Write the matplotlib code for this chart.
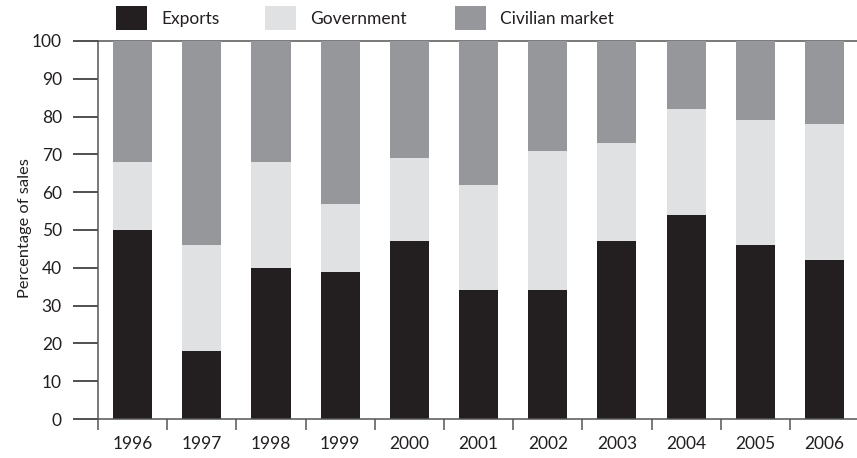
import matplotlib
matplotlib.use("Agg")
import matplotlib.pyplot as plt
from matplotlib.patches import Rectangle
import numpy as np

years = ["1996", "1997", "1998", "1999", "2000", "2001", "2002", "2003", "2004", "2005", "2006"]
exports = [50, 18, 40, 39, 47, 34, 34, 47, 54, 46, 42]
government = [18, 28, 28, 18, 22, 28, 37, 26, 28, 33, 36]
civilian = [32, 54, 32, 43, 31, 38, 29, 27, 18.5, 21, 22]
series_names = ["Exports", "Government", "Civilian market"]
colors = ["#231f20", "#e0e1e3", "#96979a"]

plt.rcParams['font.family'] = ['Lato', 'DejaVu Sans']
W, H = 857, 458
fig = plt.figure(figsize=(W / 100, H / 100), dpi=100)
ax = fig.add_axes([98 / W, 1 - 419 / H, (W - 98) / W, (419 - 41) / H])

x = np.arange(len(years))
bottom = np.zeros(len(years))
for vals, c, name in zip([exports, government, civilian], colors, series_names):
    ax.bar(x, vals, width=0.565, bottom=bottom, color=c, label=name, zorder=2)
    bottom += np.array(vals)

ax.set_xlim(-0.5, 10.47)
ax.set_ylim(0, 100)
ax.set_yticks(range(0, 101, 10))
ax.tick_params(axis='y', direction='out', length=18, width=1.1, color='#231f20',
               labelsize=12.5, pad=8, labelcolor='#231f20')
ax.set_xticks(x)
ax.set_xticklabels(years)
ax.set_xticks(np.arange(-0.5, 10.5, 1), minor=True)
ax.tick_params(axis='x', which='major', length=0, labelsize=12.5, pad=12, labelcolor='#231f20')
ax.tick_params(axis='x', which='minor', direction='out', length=8, width=1.1, color='#555555')
ax.spines['right'].set_visible(False)
for s in ['left', 'top', 'bottom']:
    ax.spines[s].set_color('#555555')
    ax.spines[s].set_linewidth(1.1)
ax.spines['top'].set_zorder(1)

fig.text(25 / W, 1 - 228 / H, "Percentage of sales", rotation=90, ha='center', va='center',
         fontsize=11.8, color='#231f20')

# legend
patch_x = [116, 265, 455]
text_x = [161, 310, 500]
for px, tx, c, name in zip(patch_x, text_x, colors, series_names):
    fig.add_artist(Rectangle((px / W, 1 - 30 / H), 31 / W, 24 / H, transform=fig.transFigure,
                             facecolor=c, edgecolor='none'))
    fig.text(tx / W, 1 - 19 / H, name, ha='left', va='center', fontsize=12.5, color='#231f20')

fig.savefig("out.png", dpi=100)
